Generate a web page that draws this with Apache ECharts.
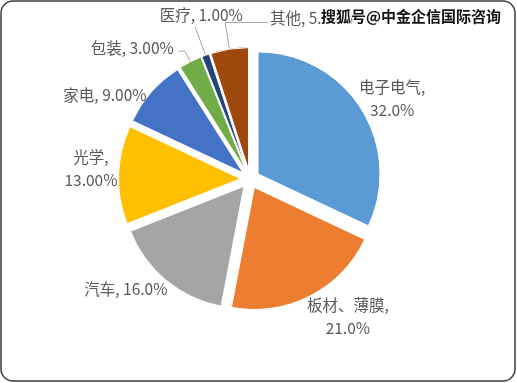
<!DOCTYPE html>
<html>
<head>
<meta charset="utf-8">
<script src="https://cdn.jsdelivr.net/npm/echarts@6/dist/echarts.min.js"></script>
<style>
  html, body { margin: 0; padding: 0; background: #fff; }
  #chart { width: 517px; height: 383px; }
</style>
</head>
<body>
<div id="chart"></div>
<script>
// Application share of the market, by sector
const categories = ['电子电气', '板材、薄膜', '汽车', '光学', '家电', '包装', '医疗', '其他'];
const shares = [32.0, 21.0, 16.0, 13.0, 9.0, 3.0, 1.0, 5.0];
const decimals = [1, 1, 1, 2, 2, 2, 2, 2];
const wrapLabel = [true, true, false, true, false, false, false, false];
const colors = ['#5B9BD5', '#ED7D31', '#A5A5A5', '#FFC000', '#4472C4', '#70AD47', '#264478', '#9E480E'];

// label placement: leader line lengths (radial, horizontal), alignment and nudges
const showLeader = [false, false, false, false, false, true, true, true];
const leaderLen = [21.5, 21, 11.4, 12, 0, 12, 30, 27];
const leaderLen2 = [8, 23.7, 28, 10.6, 41.4, 6, 0, -42.7];
const labelAlign = ['center', 'center', 'center', 'center', 'center', 'right', 'center', 'left'];
const labelVAlign = ['middle', 'middle', 'middle', 'middle', 'middle', 'middle', 'bottom', 'middle'];
const labelPadLeft = [0, 0, 0, 0, 0, 0, 22, 7];
const labelDy = [2, 1.5, 0, -5.5, 3, -3, 0, -4.5];

const pieCenter = [250, 179];
const pieRadius = 122;

const labelFont = { color: '#595959', fontSize: 15.5, fontFamily: 'Noto Sans CJK SC, sans-serif', lineHeight: 23 };

const data = categories.map((name, i) => ({
  name: name,
  value: shares[i],
  selected: true,
  itemStyle: { color: colors[i] },
  label: { padding: [0, 0, 0, labelPadLeft[i]] },
  labelLine: { show: showLeader[i], length: leaderLen[i], length2: leaderLen2[i] }
}));

const chart = echarts.init(document.getElementById('chart'), null, { renderer: 'canvas' });
chart.setOption({
  backgroundColor: '#fff',
  animation: false,
  graphic: [
    {
      type: 'rect',
      shape: { x: 1, y: 1, width: 514, height: 380, r: 12 },
      style: { fill: 'none', stroke: '#3f3f3f', lineWidth: 1.5 },
      z: 0
    },
    {
      type: 'text',
      right: 15,
      top: 8,
      style: {
        text: '搜狐号@中金企信国际咨询',
        fill: '#111',
        stroke: '#fff',
        lineWidth: 2,
        font: 'bold 15px "Noto Sans CJK SC", sans-serif'
      },
      z: 100
    }
  ],
  series: [{
    type: 'pie',
    center: pieCenter,
    radius: pieRadius,
    startAngle: 90,
    clockwise: true,
    selectedMode: 'multiple',
    selectedOffset: 9.5,
    avoidLabelOverlap: false,
    itemStyle: { borderColor: '#fff', borderWidth: 1 },
    select: { itemStyle: { borderColor: '#fff', borderWidth: 1 } },
    emphasis: { disabled: true },
    label: Object.assign({
      show: true,
      position: 'outside',
      formatter: p => {
        const i = p.dataIndex;
        const pct = shares[i].toFixed(decimals[i]) + '%';
        return wrapLabel[i] ? p.name + ',\n' + pct : p.name + ', ' + pct;
      }
    }, labelFont),
    labelLine: {
      minTurnAngle: 0,
      maxSurfaceAngle: 180,
      lineStyle: { color: '#a6a6a6', width: 1 }
    },
    labelLayout: params => ({
      dy: labelDy[params.dataIndex],
      align: labelAlign[params.dataIndex],
      verticalAlign: labelVAlign[params.dataIndex]
    }),
    data: data
  }]
});
</script>
</body>
</html>
